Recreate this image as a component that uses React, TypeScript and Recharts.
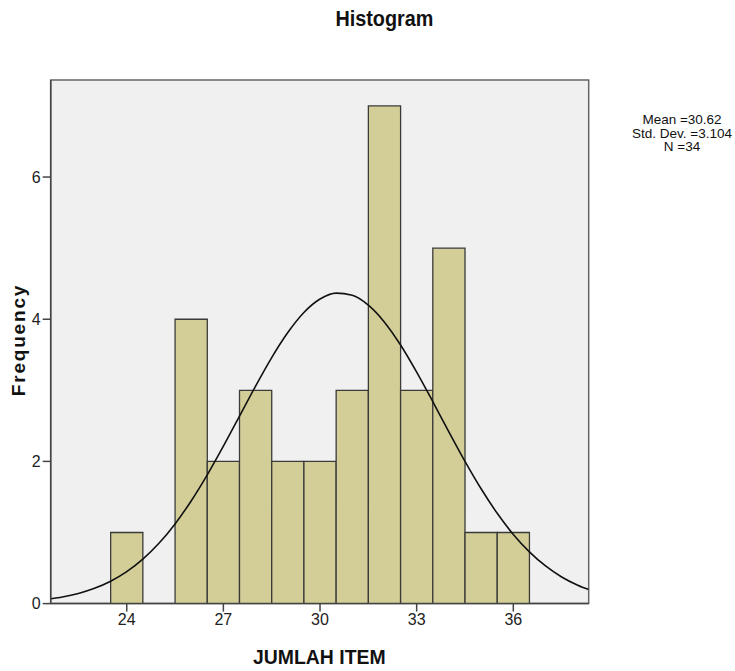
import React from 'react';
import { ComposedChart, Bar, Line, XAxis, YAxis, CartesianGrid, ReferenceArea, Rectangle } from 'recharts';

// Histogram bins (value -> frequency)
const binValues = [24, 25, 26, 27, 28, 29, 30, 31, 32, 33, 34, 35, 36];
const binCounts = [1, 0, 4, 2, 3, 2, 2, 3, 7, 3, 5, 1, 1];

// Fitted normal curve
const curveX = [21.64, 22, 22.5, 23, 23.5, 24, 24.5, 25, 25.5, 26, 26.5, 27, 27.5, 28, 28.5, 29, 29.5, 30, 30.5, 31, 31.5, 32, 32.5, 33, 33.5, 34, 34.5, 35, 35.5, 36, 36.5, 37, 37.5, 38, 38.34];
const curveY = [0.067, 0.093, 0.143, 0.215, 0.315, 0.45, 0.626, 0.848, 1.121, 1.444, 1.811, 2.214, 2.637, 3.06, 3.461, 3.813, 4.095, 4.284, 4.367, 4.337, 4.198, 3.959, 3.638, 3.257, 2.842, 2.415, 2.001, 1.615, 1.27, 0.973, 0.727, 0.529, 0.375, 0.259, 0.198];

const xTicks = [24, 27, 30, 33, 36];
const yTicks = [0, 2, 4, 6];
const xDomain = [21.64, 38.34];
const yDomain = [0, 7.365];

const statLines = ['Mean =30.62', 'Std. Dev. =3.104', 'N =34'];

const barData = binValues.map((x, i) => ({ x, count: binCounts[i] }));
const curveData = curveX.map((x, i) => ({ x, density: curveY[i] }));

const W = 735;
const H = 671;
const plotLeft = 50.7;
const plotRight = 588.7;
const plotTop = 80;
const plotBottom = 603.6;
const unitPx = (plotRight - plotLeft) / (xDomain[1] - xDomain[0]);

const narrow = '"Liberation Sans Narrow", "Arial Narrow", "Liberation Sans", Arial, sans-serif';
const sans = '"Liberation Sans", Arial, sans-serif';

const BinShape = (props: any) => {
  const { x, width, y, height } = props;
  if (!height) return null;
  const cx = x + width / 2;
  return (
    <Rectangle
      x={cx - unitPx / 2}
      y={y}
      width={unitPx}
      height={height}
      fill="#d3ce97"
      stroke="#3a3a3a"
      strokeWidth={1.3}
    />
  );
};

export default function App() {
  return (
    <div style={{ position: 'absolute', left: 0, top: 0, width: W, height: H, background: '#fff' }}>
      <ComposedChart
        width={W}
        height={H}
        data={barData}
        margin={{ top: plotTop, right: W - plotRight, left: 0, bottom: H - plotBottom - 30 }}
        barCategoryGap={0}
        barGap={0}
      >
        <CartesianGrid horizontal={false} vertical={false} fill="#f0f0f0" />
        <XAxis
          dataKey="x"
          type="number"
          domain={xDomain}
          ticks={xTicks}
          allowDataOverflow
          height={30}
          tickSize={8}
          tick={{ fill: '#222', fontSize: 16, fontFamily: narrow }}
          stroke="#444"
          axisLine={{ stroke: '#444', strokeWidth: 1.5 }}
          tickLine={{ stroke: '#444', strokeWidth: 1.5 }}
        />
        <YAxis
          type="number"
          domain={yDomain}
          ticks={yTicks}
          allowDataOverflow
          width={plotLeft}
          tickSize={8}
          tick={{ fill: '#222', fontSize: 16, fontFamily: narrow }}
          axisLine={{ stroke: '#444', strokeWidth: 1.5 }}
          tickLine={{ stroke: '#444', strokeWidth: 1.5 }}
        />
        <Bar
          dataKey="count"
          fill="#d3ce97"
          stroke="#3a3a3a"
          shape={BinShape}
          isAnimationActive={false}
        />
        <Line
          data={curveData}
          dataKey="density"
          type="monotone"
          stroke="#111"
          strokeWidth={1.6}
          dot={false}
          activeDot={false}
          isAnimationActive={false}
        />
        <ReferenceArea
          x1={xDomain[0]}
          x2={xDomain[1]}
          y1={yDomain[0]}
          y2={yDomain[1]}
          fill="none"
          stroke="#666"
          strokeWidth={1.5}
          ifOverflow="visible"
        />
      </ComposedChart>
      <div
        style={{
          position: 'absolute', left: 0, width: W - 30, top: 6, textAlign: 'center',
          fontFamily: sans, fontSize: 22, color: '#111', fontWeight: 'bold', lineHeight: '26px',
        }}
      >
        <span style={{ display: 'inline-block', transform: 'scaleX(0.9)', marginLeft: 63 }}>Histogram</span>
      </div>
      <div
        style={{
          position: 'absolute', left: plotLeft, width: plotRight - plotLeft, top: 646, textAlign: 'center',
          fontFamily: sans, fontSize: 20, fontWeight: 'bold', color: '#111', lineHeight: '22px',
        }}
      >
        <span style={{ display: 'inline-block', transform: 'scaleX(0.97)', marginLeft: -1 }}>JUMLAH ITEM</span>
      </div>
      <div
        style={{
          position: 'absolute', left: 19, top: 340, width: 0, height: 0,
        }}
      >
        <div
          style={{
            position: 'absolute', left: -100, top: -11, width: 200, textAlign: 'center',
            transform: 'rotate(-90deg)', fontFamily: sans, fontSize: 19, fontWeight: 'bold', color: '#111',
            lineHeight: '22px', letterSpacing: 1.8,
          }}
        >
          Frequency
        </div>
      </div>
      <div
        style={{
          position: 'absolute', left: 622, width: 120, top: 113, textAlign: 'center',
          fontFamily: narrow, fontSize: 13.5, color: '#111', lineHeight: '13.5px',
        }}
      >
        {statLines.map((s) => (
          <div key={s}>{s}</div>
        ))}
      </div>
    </div>
  );
}
